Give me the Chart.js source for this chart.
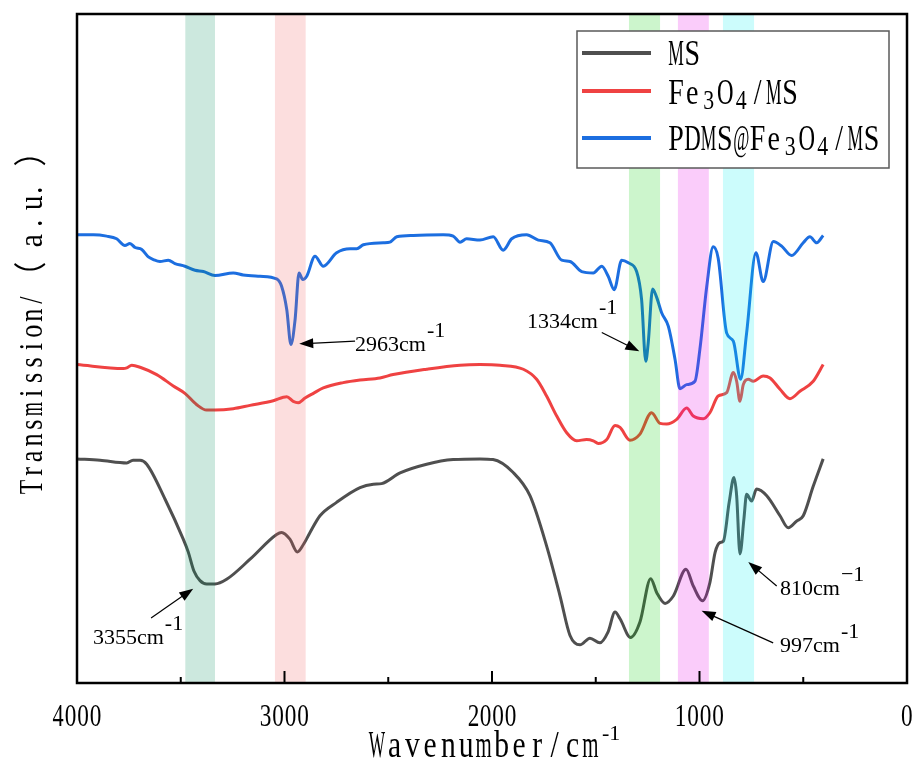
<!DOCTYPE html>
<html><head><meta charset="utf-8">
<script src="https://cdn.jsdelivr.net/npm/chart.js@4/dist/chart.umd.min.js"></script>
<style>html,body{margin:0;padding:0;background:#fff;overflow:hidden}#c{display:block}</style>
</head><body>
<canvas id="c" width="919" height="763"></canvas>
<script>
// ---------- data ----------
const msWn = [4000,3889,3760,3730,3696,3664,3576,3488,3464,3436,3407,3375,3335,3279,3166,3038,3014,2974,2938,2909,2877,2829,2749,2636,2572,2532,2443,2315,2187,2058,1995,1899,1817,1737,1672,1624,1576,1528,1480,1441,1407,1383,1332,1287,1235,1206,1166,1126,1065,1030,985,950,925,901,885,857,834,821,805,786,773,749,725,676,612,572,532,500,452,404];
const msT = [33.5,33.3,32.9,33.3,33.3,32.7,27.5,21.5,19.6,16.7,15.3,14.8,14.8,15.5,18.5,22.2,22.5,21.5,19.6,20.7,22.5,25.0,27.0,29.2,29.7,29.8,31.4,32.7,33.4,33.5,33.4,31.5,28.0,20.5,13.0,7.1,5.7,6.7,6.0,7.6,10.6,9.6,6.8,9.1,15.6,13.5,11.9,13.0,17.0,14.5,12.3,15.0,19.5,21.0,21.2,27.0,30.7,28.0,19.3,24.5,28.2,27.2,29.0,28.0,25.0,23.2,24.2,25.0,29.4,33.5];
const feWn = [4000,3777,3760,3736,3696,3616,3536,3480,3423,3375,3335,3247,3166,3054,2989,2958,2934,2901,2861,2813,2717,2636,2540,2476,2315,2154,2058,1962,1849,1785,1737,1688,1640,1592,1544,1512,1488,1447,1407,1383,1335,1287,1231,1190,1158,1110,1062,1030,982,950,910,869,837,821,805,789,765,741,693,660,612,564,516,452,404];
const feT = [47.6,47.0,47.1,47.5,47.2,46.1,44.4,43.3,41.6,40.8,40.8,41.0,41.5,42.2,42.8,42.1,41.9,42.6,43.3,44.1,44.9,45.3,45.6,46.1,46.9,47.5,47.6,47.5,46.9,45.4,42.9,39.9,37.4,36.2,36.4,36.2,35.8,36.4,38.5,38.2,36.3,37.2,40.4,38.8,38.7,39.4,41.1,39.9,39.5,40.4,42.9,43.4,46.4,45.1,42.1,44.6,45.4,45.1,45.9,45.6,43.9,42.5,43.6,45.1,47.6];
const pdWn = [4000,3921,3857,3809,3769,3745,3720,3688,3656,3632,3600,3560,3528,3480,3431,3391,3335,3247,3199,3118,3038,3014,2989,2969,2949,2930,2912,2893,2853,2813,2749,2684,2652,2620,2524,2492,2459,2379,2235,2187,2154,2122,2058,1994,1946,1905,1833,1777,1721,1664,1624,1568,1512,1471,1440,1411,1375,1343,1303,1279,1259,1247,1226,1206,1182,1150,1118,1094,1062,1022,998,965,934,910,869,837,802,773,728,693,644,604,556,500,468,435,404];
const pdT = [67.0,67.0,66.8,66.4,65.4,65.7,65.1,64.8,63.7,63.3,63.0,63.2,62.7,62.3,61.7,61.5,60.9,61.3,61.0,60.8,60.4,59.3,55.8,50.6,54.3,61.3,60.3,60.8,63.8,62.3,64.3,64.9,64.9,65.5,65.8,65.9,66.7,66.9,67.0,66.8,65.9,66.4,66.2,66.7,64.7,66.4,67.0,66.2,65.8,63.2,63.0,61.5,61.3,62.3,60.8,58.8,63.2,62.8,61.5,57.3,48.1,50.9,58.9,57.6,55.3,53.3,48.4,44.0,44.6,45.1,49.9,59.3,65.2,63.5,52.3,51.1,45.4,52.3,64.3,60.0,66.0,65.3,63.9,65.8,66.7,65.8,66.9];

const seriesNames = ['MS', 'Fe_3O_4/MS', 'PDMS@Fe_3O_4/MS'];
const seriesColors = ['#4f4f4f', '#ef4242', '#1c6ee0'];
const xMajorTicks = [4000, 3000, 2000, 1000, 0];
const xMinorTicks = [3500, 2500, 1500, 500];
const bandRanges = [[3478, 3335], [3046, 2898], [1340, 1190], [1104, 955], [887, 737]];
const bandColors = ['rgba(0,140,90,0.2)', 'rgba(240,90,90,0.2)', 'rgba(0,205,0,0.2)', 'rgba(230,0,230,0.2)', 'rgba(0,240,240,0.2)'];
const peakLabels = ['3355cm', '2963cm', '1334cm', '810cm', '997cm'];
const peakSups = ['-1', '-1', '-1', '\u22121', '-1'];
const peakTips = [[3440, 14.1], [2929, 50.7], [1290, 49.6], [765, 18.1], [990, 10.8]];
const peakTails = [[3643, 9.7], [2660, 51.1], [1471, 52.4], [628, 14.5], [645, 6.0]];
const peakTextAt = [[3923, 5.8], [2660, 49.6], [1831, 53.0], [612, 13.1], [612, 4.6]];
const xTitle = 'Wavenumber/cm';
const yTitleMain = 'Transmission/';
const yTitleTail = ['\uFF08', 'a', '.', 'u', '.', '\uFF09'];

// ---------- helpers ----------
const SERIF = "'Liberation Serif','Times New Roman','Noto Sans CJK SC',serif";
function glyphAt(ctx, ch, cx, base, size, maxHs, cell) {
  if (ch === ' ') return;
  ctx.font = size + 'px ' + SERIF;
  const m = ctx.measureText(ch);
  const gw = m.actualBoundingBoxRight + m.actualBoundingBoxLeft;
  let hs = maxHs;
  if (cell && gw * hs > cell * 0.92) hs = cell * 0.92 / gw;
  ctx.save();
  ctx.translate(cx, base);
  ctx.scale(hs, 1);
  ctx.textAlign = 'left';
  ctx.textBaseline = 'alphabetic';
  ctx.fillText(ch, -(m.actualBoundingBoxRight - m.actualBoundingBoxLeft) / 2, 0);
  ctx.restore();
}
function monoRow(ctx, text, left, base, size, maxHs, cell) {
  let i = 0, k = 0;
  while (i < text.length) {
    let ch = text[i], sub = false;
    if (ch === '_') { sub = true; i++; ch = text[i]; }
    const cx = left + (k + 0.5) * cell;
    if (sub) glyphAt(ctx, ch, cx, base + 5, size * 0.78, maxHs, cell);
    else glyphAt(ctx, ch, cx, base, size, maxHs, cell);
    i++; k++;
  }
}
function arrow(ctx, x1, y1, x2, y2) {
  const a = Math.atan2(y2 - y1, x2 - x1), L = 14, W = 5;
  ctx.save();
  ctx.strokeStyle = '#000'; ctx.fillStyle = '#000'; ctx.lineWidth = 1.2;
  ctx.beginPath(); ctx.moveTo(x1, y1);
  ctx.lineTo(x2 - Math.cos(a) * L * 0.8, y2 - Math.sin(a) * L * 0.8); ctx.stroke();
  ctx.beginPath(); ctx.moveTo(x2, y2);
  ctx.lineTo(x2 - L * Math.cos(a) + W * Math.sin(a), y2 - L * Math.sin(a) - W * Math.cos(a));
  ctx.lineTo(x2 - L * Math.cos(a) - W * Math.sin(a), y2 - L * Math.sin(a) + W * Math.cos(a));
  ctx.closePath(); ctx.fill();
  ctx.restore();
}

const overlay = {
  id: 'overlay',
  afterDatasetsDraw(chart) {
    const ctx = chart.ctx, a = chart.chartArea, xs = chart.scales.x, ys = chart.scales.y;
    ctx.save();
    // bands (over lines)
    bandRanges.forEach((b, i) => {
      const x1 = xs.getPixelForValue(b[0]), x2 = xs.getPixelForValue(b[1]);
      ctx.fillStyle = bandColors[i];
      ctx.fillRect(x1, a.top, x2 - x1, a.bottom - a.top);
    });
    // frame
    ctx.strokeStyle = '#000'; ctx.lineWidth = 2.5;
    ctx.strokeRect(a.left, a.top, a.right - a.left, a.bottom - a.top);
    // tick marks (inside)
    ctx.lineWidth = 2;
    xMajorTicks.forEach(v => { const x = xs.getPixelForValue(v); ctx.beginPath(); ctx.moveTo(x, a.bottom); ctx.lineTo(x, a.bottom - 12); ctx.stroke(); });
    xMinorTicks.forEach(v => { const x = xs.getPixelForValue(v); ctx.beginPath(); ctx.moveTo(x, a.bottom); ctx.lineTo(x, a.bottom - 6); ctx.stroke(); });
    // tick labels
    ctx.fillStyle = '#000';
    xMajorTicks.forEach(v => {
      const s = String(v), cell = 12.5, x = xs.getPixelForValue(v);
      monoRow(ctx, s, x - s.length * cell / 2, a.bottom + 43, 31, 0.75, cell);
    });
    // x title
    monoRow(ctx, xTitle, 368, 757, 37, 0.8, 17.8);
    ctx.font = '22px ' + SERIF; ctx.textAlign = 'left'; ctx.textBaseline = 'alphabetic';
    ctx.fillText('-1', 602, 740);
    // y title (rotated)
    ctx.save();
    ctx.translate(42, 0);
    ctx.rotate(-Math.PI / 2);
    for (let i = 0; i < yTitleMain.length; i++) glyphAt(ctx, yTitleMain[i], -(487 - 15.6 * i), 0, 33, 0.8, 15.6);
    const tailPos = [267, 240, 223, 203, 190, 161];
    yTitleTail.forEach((ch, i) => glyphAt(ctx, ch, -tailPos[i], 0, 33, 0.9, 26));
    ctx.restore();
    // legend
    const lx = 577, ly = 31, lw = 312, lh = 137;
    ctx.fillStyle = '#fff'; ctx.fillRect(lx, ly, lw, lh);
    ctx.strokeStyle = '#5a5a5a'; ctx.lineWidth = 1.5; ctx.strokeRect(lx, ly, lw, lh);
    const rowY = [53, 91, 138], baseY = [65, 103.5, 150];
    seriesNames.forEach((n, i) => {
      ctx.strokeStyle = seriesColors[i]; ctx.lineWidth = 4;
      ctx.beginPath(); ctx.moveTo(582, rowY[i]); ctx.lineTo(651, rowY[i]); ctx.stroke();
      ctx.fillStyle = '#000';
      monoRow(ctx, n, 668, baseY[i], 35, 0.8, 16.3);
    });
    // peak annotations
    peakLabels.forEach((t, i) => {
      const tx = xs.getPixelForValue(peakTails[i][0]), ty = ys.getPixelForValue(peakTails[i][1]);
      const hx = xs.getPixelForValue(peakTips[i][0]), hy = ys.getPixelForValue(peakTips[i][1]);
      arrow(ctx, tx, ty, hx, hy);
      const px = xs.getPixelForValue(peakTextAt[i][0]), py = ys.getPixelForValue(peakTextAt[i][1]);
      ctx.fillStyle = '#000'; ctx.font = '22px ' + SERIF; ctx.textAlign = 'left'; ctx.textBaseline = 'alphabetic';
      ctx.fillText(t, px, py);
      const w = ctx.measureText(t).width;
      ctx.fillText(peakSups[i], px + w + 1, py - 14);
    });
    ctx.restore();
  }
};

const pts = (wn, t) => wn.map((w, i) => ({ x: w, y: t[i] }));
new Chart(document.getElementById('c').getContext('2d'), {
  type: 'line',
  data: {
    datasets: [
      { label: 'MS', data: pts(msWn, msT), borderColor: seriesColors[0] },
      { label: 'Fe3O4/MS', data: pts(feWn, feT), borderColor: seriesColors[1] },
      { label: 'PDMS@Fe3O4/MS', data: pts(pdWn, pdT), borderColor: seriesColors[2] }
    ]
  },
  options: {
    responsive: false, animation: false, devicePixelRatio: 1,
    layout: { padding: { top: 14, right: 12, left: 0, bottom: 0 } },
    plugins: { legend: { display: false }, tooltip: { enabled: false } },
    elements: { point: { radius: 0 }, line: { borderWidth: 3, cubicInterpolationMode: 'monotone', fill: false } },
    scales: {
      x: { type: 'linear', min: 0, max: 4000, reverse: true, grid: { display: false }, border: { display: false }, ticks: { display: false }, afterFit(s) { s.height = 80; } },
      y: { type: 'linear', min: 0, max: 100, grid: { display: false }, border: { display: false }, ticks: { display: false }, afterFit(s) { s.width = 77; } }
    }
  },
  plugins: [overlay]
});
</script>
</body></html>
